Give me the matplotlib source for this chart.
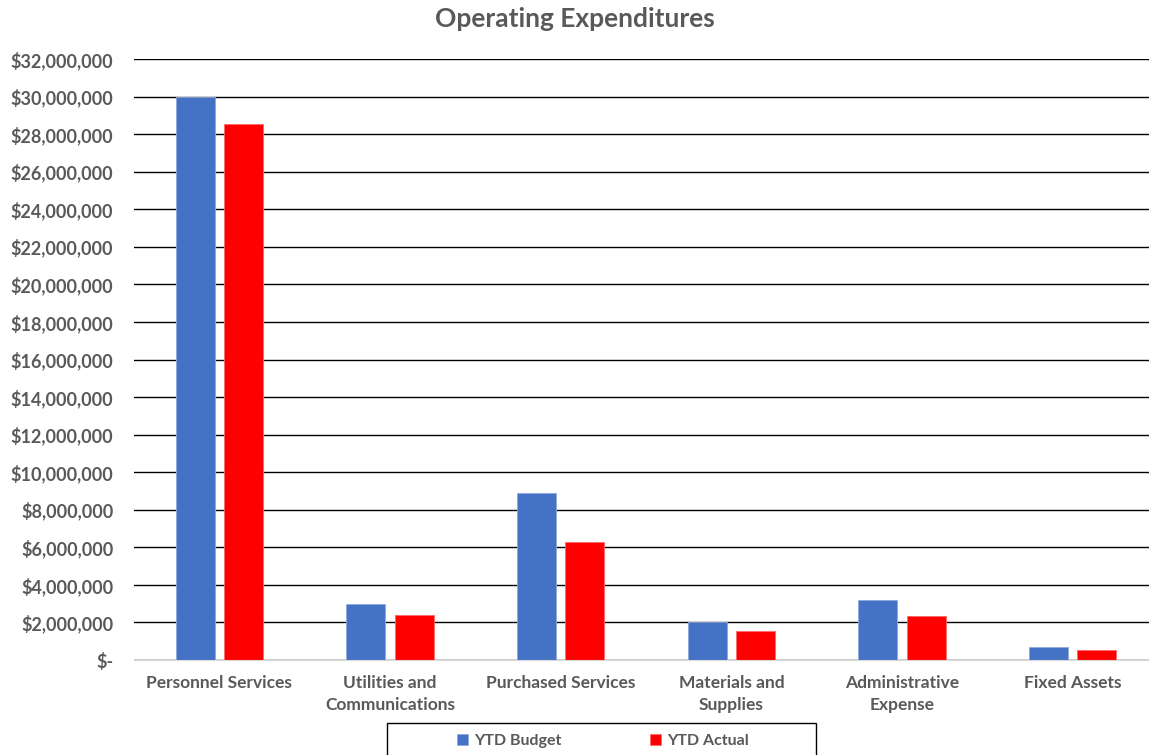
import numpy as np
import matplotlib.pyplot as plt
from matplotlib.patches import Rectangle
from matplotlib.ticker import FuncFormatter

categories = ['Personnel Services', 'Utilities and\nCommunications', 'Purchased Services',
              'Materials and\nSupplies', 'Administrative\nExpense', 'Fixed Assets']
ytd_budget = [30000000, 2980000, 8880000, 2040000, 3190000, 680000]
ytd_actual = [28540000, 2400000, 6270000, 1540000, 2340000, 530000]

plt.rcParams['font.family'] = ['Lato', 'DejaVu Sans']
grey = '#595959'

fig = plt.figure(figsize=(11.49, 7.55), dpi=100)
# plot area runs slightly past the right edge, as in the original
ax = fig.add_axes([134 / 1149, 1 - 660 / 755, 1024 / 1149, 601 / 755])

x = np.arange(len(categories))
w = 0.229
off = 0.142
ax.bar(x - off, ytd_budget, w, color='#4472C4', edgecolor='#8FAADC', linewidth=0.6, label='YTD Budget', zorder=3)
ax.bar(x + off, ytd_actual, w, color='#FF0000', edgecolor='#FF6666', linewidth=0.6, label='YTD Actual', zorder=3)

ax.set_xlim(-0.5, len(categories) - 0.5)
ax.set_ylim(0, 32000000)
ax.set_yticks(np.arange(0, 32000001, 2000000))
ax.yaxis.set_major_formatter(FuncFormatter(lambda v, p: '$-' if v == 0 else f'${v:,.0f}'))
ax.grid(axis='y', color='black', linewidth=1.0, zorder=0)
ax.set_xticks(x)
ax.set_xticklabels(categories, linespacing=1.45)
ax.tick_params(axis='both', length=0, colors=grey, labelsize=12.5)
ax.tick_params(axis='y', pad=15, labelsize=13)
ax.tick_params(axis='x', pad=11)
for lbl in ax.get_xticklabels() + ax.get_yticklabels():
    lbl.set_fontweight('bold')
for s in ['top', 'right', 'left']:
    ax.spines[s].set_visible(False)
ax.spines['bottom'].set_color('#D9D9D9')
ax.spines['bottom'].set_zorder(4)

fig.text(0.5, 1 - 19 / 755, 'Operating Expenditures', ha='center', va='center',
         fontsize=19, fontweight='bold', color=grey)

# legend box runs off the bottom edge like in the original
fig.patches.append(Rectangle((387 / 1149, -0.02), 429 / 1149, 0.02 + 32 / 755,
                             transform=fig.transFigure, facecolor='white',
                             edgecolor='black', linewidth=1.0))
leg = fig.legend(loc='center', ncol=2, bbox_to_anchor=(603 / 1149, 1 - 741 / 755),
                 frameon=False, handlelength=0.7, handleheight=0.7, handletextpad=0.4,
                 columnspacing=5.5, prop={'weight': 'bold', 'size': 11.5})
for t in leg.get_texts():
    t.set_color(grey)

fig.savefig('out.png', dpi=100)
